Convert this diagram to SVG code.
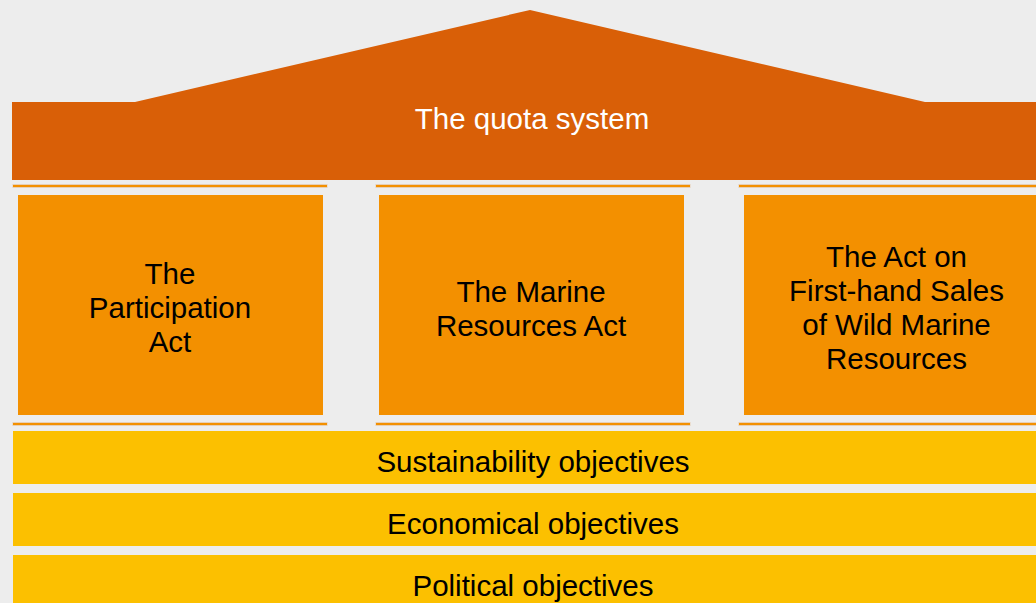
<svg xmlns="http://www.w3.org/2000/svg" width="1036" height="603" viewBox="0 0 1036 603">
<style>
.t{font-family:"Liberation Sans",Arial,Helvetica,sans-serif;font-size:29.5px;text-anchor:middle;fill:#000}
.w{fill:#fff}
.pillar{fill:#F39000}
.band{fill:#FCC000}
.shadow{fill:#E7CFB5}
.rule{fill:#F39000}
</style>
<rect x="0" y="0" width="1036" height="603" fill="#EDEDED"/>
<g id="roof">
<polygon points="12,102 135,102 530,10 925,102 1052,102 1052,180 12,180" fill="#D95F07"/>
<text class="t w" x="532" y="128.5">The quota system</text>
</g>
<g id="rules">
<rect class="shadow" x="12.5" y="184" width="315" height="4"/>
<rect class="rule" x="13" y="185" width="314" height="2"/>
<rect class="shadow" x="375.5" y="184" width="315" height="4"/>
<rect class="rule" x="376" y="185" width="314" height="2"/>
<rect class="shadow" x="738.5" y="184" width="315" height="4"/>
<rect class="rule" x="739" y="185" width="314" height="2"/>
<rect class="shadow" x="12.5" y="422" width="315" height="4"/>
<rect class="rule" x="13" y="423" width="314" height="2"/>
<rect class="shadow" x="375.5" y="422" width="315" height="4"/>
<rect class="rule" x="376" y="423" width="314" height="2"/>
<rect class="shadow" x="738.5" y="422" width="315" height="4"/>
<rect class="rule" x="739" y="423" width="314" height="2"/>
</g>
<g id="pillar1">
<rect class="pillar" x="18" y="195" width="305" height="220"/>
<text class="t" x="170" y="283.5">The</text>
<text class="t" x="170" y="318">Participation</text>
<text class="t" x="170" y="352">Act</text>
</g>
<g id="pillar2">
<rect class="pillar" x="379" y="195" width="305" height="220"/>
<text class="t" x="531" y="302">The Marine</text>
<text class="t" x="531" y="336">Resources Act</text>
</g>
<g id="pillar3">
<rect class="pillar" x="744" y="195" width="305" height="220"/>
<text class="t" x="896.5" y="267">The Act on</text>
<text class="t" x="896.5" y="301">First-hand Sales</text>
<text class="t" x="896.5" y="335">of Wild Marine</text>
<text class="t" x="896.5" y="369">Resources</text>
</g>
<g id="band1">
<rect class="band" x="13" y="431" width="1040" height="53"/>
<text class="t" x="533" y="471.5">Sustainability objectives</text>
</g>
<g id="band2">
<rect class="band" x="13" y="493" width="1040" height="53"/>
<text class="t" x="533" y="533.5">Economical objectives</text>
</g>
<g id="band3">
<rect class="band" x="13" y="555" width="1040" height="53"/>
<text class="t" x="533" y="595.5">Political objectives</text>
</g>
<g id="connectors"/>
</svg>
